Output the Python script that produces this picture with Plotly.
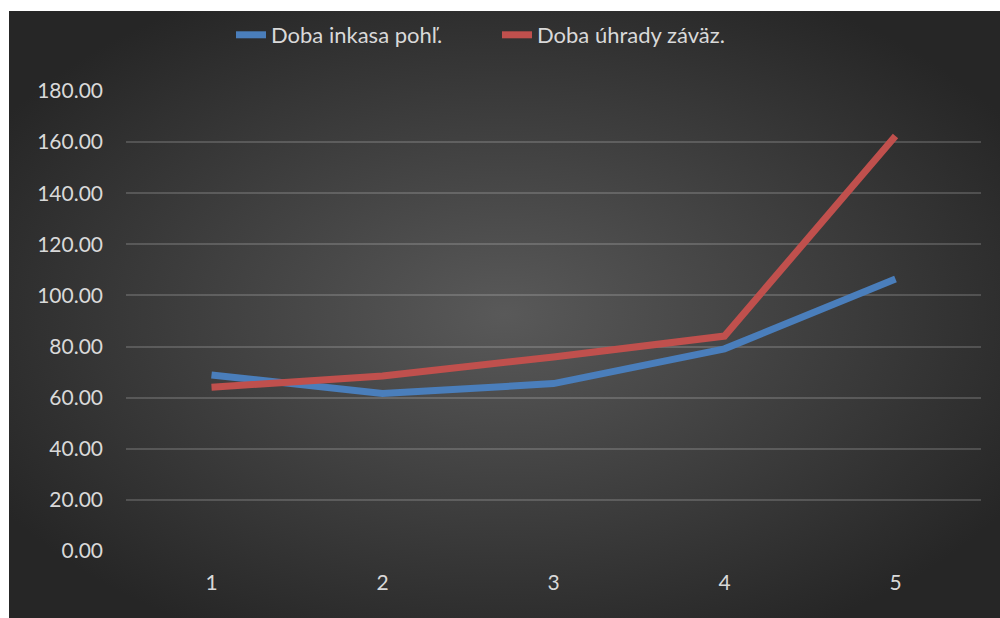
import base64
import plotly.graph_objects as go

categories = ["1", "2", "3", "4", "5"]
doba_inkasa = [68.9, 61.6, 65.5, 79.1, 106.4]
doba_uhrady = [64.1, 68.5, 75.9, 84.1, 162.4]
y_ticks = [0, 20, 40, 60, 80, 100, 120, 140, 160, 180]
y_tick_labels = [f"{v:.2f}" for v in y_ticks]

W, H = 1000, 618
L, R, T, B = 126, 19, 91, 67
pw, ph = W - L - R, H - T - B

svg = f"""<svg xmlns='http://www.w3.org/2000/svg' width='991' height='607' viewBox='0 0 991 607' preserveAspectRatio='none'>
<defs><radialGradient id='g' cx='50%' cy='50%' r='60%' fx='50%' fy='50%'>
<stop offset='0%' stop-color='#595959'/><stop offset='100%' stop-color='#262626'/></radialGradient></defs>
<rect x='0' y='0' width='991' height='607' fill='url(#g)'/></svg>"""
src = "data:image/svg+xml;base64," + base64.b64encode(svg.encode()).decode()

fig = go.Figure()
fig.add_trace(go.Scatter(x=categories, y=doba_inkasa, mode="lines", name="Doba inkasa pohľ.",
                         line=dict(color="#4A7EBB", width=7)))
fig.add_trace(go.Scatter(x=categories, y=doba_uhrady, mode="lines", name="Doba úhrady záväz.",
                         line=dict(color="#C0504D", width=7)))

fig.add_layout_image(dict(source=src, xref="paper", yref="paper",
                          x=(9 - L) / pw, y=(H - B - 11) / ph,
                          sizex=(W - 9) / pw, sizey=(H - 11) / ph,
                          xanchor="left", yanchor="top", sizing="stretch", layer="below"))

fig.update_layout(
    width=W, height=H,
    margin=dict(l=L, r=R, t=T, b=B),
    paper_bgcolor="white", plot_bgcolor="rgba(0,0,0,0)",
    font=dict(family="Lato", size=21, color="#D9D9D9"),
    showlegend=True,
    legend=dict(orientation="h", x=(231 - L) / pw, xanchor="left", y=(H - B - 35) / ph, yanchor="middle",
                bgcolor="rgba(0,0,0,0)", font=dict(size=22, color="#D9D9D9"),
                itemwidth=30, tracegroupgap=0, entrywidth=221, entrywidthmode="pixels"),
)
fig.update_xaxes(type="category", range=[-0.5, 4.5], showgrid=False, zeroline=False,
                 showline=False, ticks="", tickfont=dict(size=21, color="#D9D9D9"),
                 ticklabelstandoff=17)
fig.update_yaxes(range=[0, 180], tickvals=y_ticks, ticktext=y_tick_labels,
                 showgrid=True, gridcolor="rgba(255,255,255,0.17)", gridwidth=1.5,
                 zeroline=False, showline=False, ticks="",
                 tickfont=dict(size=21, color="#D9D9D9"), ticklabelstandoff=22)

fig.write_html("out.html")
